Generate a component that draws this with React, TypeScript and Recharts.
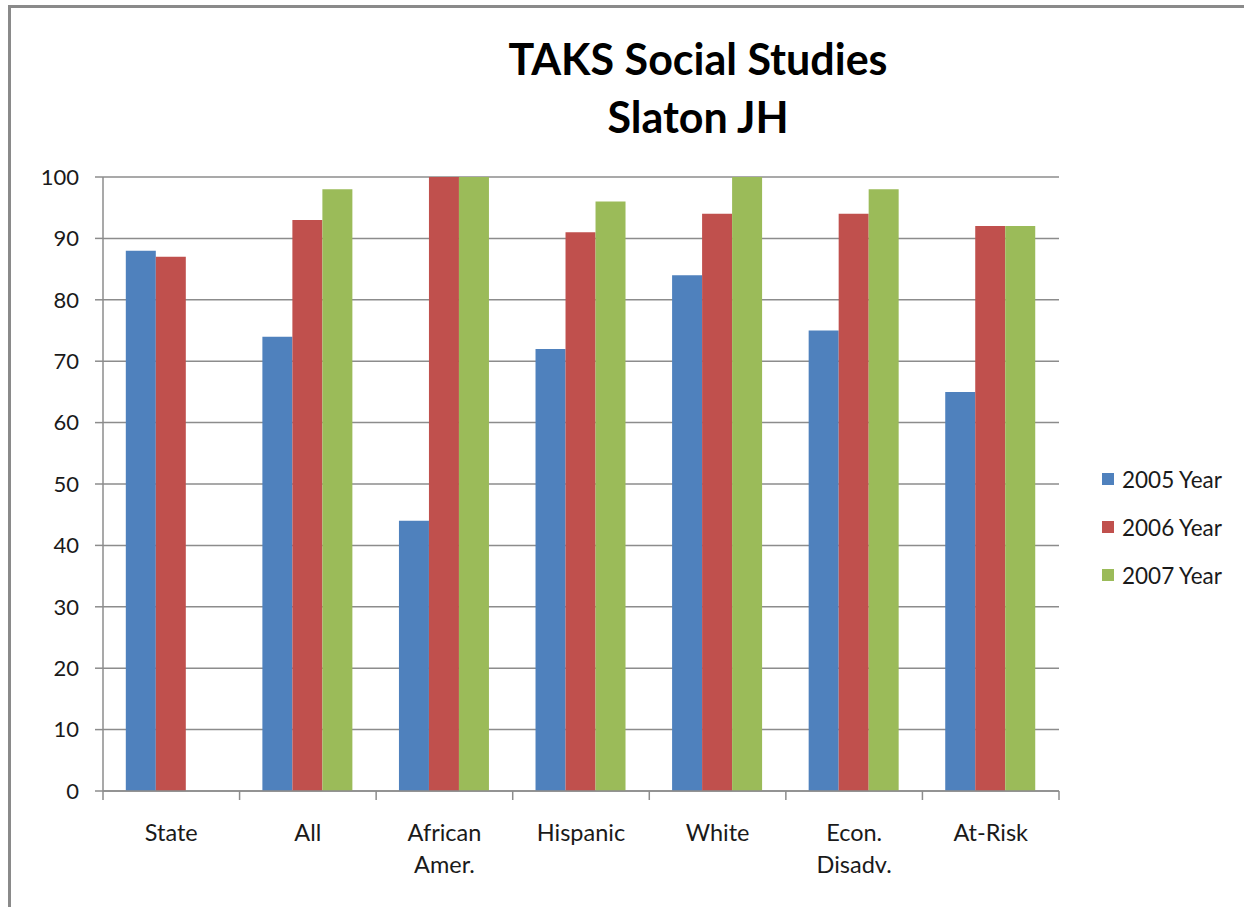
import React from "react";
import { BarChart, Bar, XAxis, YAxis, CartesianGrid, Legend } from "recharts";

const categories = ["State", "All", "African\nAmer.", "Hispanic", "White", "Econ.\nDisadv.", "At-Risk"];
const y2005 = [88, 74, 44, 72, 84, 75, 65];
const y2006 = [87, 93, 100, 91, 94, 94, 92];
const y2007 = [null, 98, 100, 96, 100, 98, 92];
const seriesNames = ["2005 Year", "2006 Year", "2007 Year"];
const seriesColors = ["#4F81BD", "#C0504D", "#9BBB59"];
const yTicks = [0, 10, 20, 30, 40, 50, 60, 70, 80, 90, 100];

const data = categories.map((c, i) => ({
  name: c,
  s2005: y2005[i],
  s2006: y2006[i],
  s2007: y2007[i],
}));

const W = 1244;
const H = 907;
const PLOT_LEFT = 103;
const PLOT_RIGHT = 1059;
const PLOT_TOP = 177;
const PLOT_BOTTOM = 791;
const LEGEND_W = 140;
const BAND = (PLOT_RIGHT - PLOT_LEFT) / categories.length;
const FONT = "Lato, 'Open Sans', sans-serif";
const AXIS_COLOR = "#8c8c8c";

const XTick = (props: any) => {
  const { x, payload, index } = props;
  const lines = String(payload.value).split("\n");
  const left = x - BAND / 2;
  const right = x + BAND / 2;
  return (
    <g>
      <line x1={left} x2={left} y1={PLOT_BOTTOM} y2={PLOT_BOTTOM + 9} stroke={AXIS_COLOR} strokeWidth={1.5} />
      {index === categories.length - 1 && (
        <line x1={right} x2={right} y1={PLOT_BOTTOM} y2={PLOT_BOTTOM + 9} stroke={AXIS_COLOR} strokeWidth={1.5} />
      )}
      <text x={x} y={PLOT_BOTTOM} textAnchor="middle" fill="#1a1a1a" fontFamily={FONT} fontSize={23.5}>
        {lines.map((l, i) => (
          <tspan key={i} x={x} dy={i === 0 ? 50 : 32}>
            {l}
          </tspan>
        ))}
      </text>
    </g>
  );
};

const LegendContent = () => (
  <div style={{ fontFamily: FONT, fontSize: 22.5, color: "#1a1a1a" }}>
    {seriesNames.map((n, i) => (
      <div key={n} style={{ display: "flex", alignItems: "center", height: 48 }}>
        <div style={{ width: 12, height: 12, background: seriesColors[i], marginRight: 8 }} />
        <span>{n}</span>
      </div>
    ))}
  </div>
);

export default function App() {
  return (
    <div style={{ position: "fixed", left: 0, top: 0, width: W, height: H, overflow: "hidden", background: "#fff" }}>
      <div
        style={{
          position: "absolute",
          left: 8,
          top: 5,
          width: 1400,
          height: 1100,
          borderLeft: "3px solid #8a8a8a",
          borderTop: "3px solid #8a8a8a",
          boxSizing: "border-box",
        }}
      />
      <div
        style={{
          position: "absolute",
          left: 0,
          width: 1396,
          top: 30,
          textAlign: "center",
          fontFamily: FONT,
          fontWeight: 700,
          fontSize: 43,
          lineHeight: "58px",
          color: "#000",
        }}
      >
        <div>TAKS Social Studies</div>
        <div>Slaton JH</div>
      </div>
      <div style={{ position: "absolute", left: 0, top: 0 }}>
        <BarChart
          width={W}
          height={H}
          data={data}
          margin={{ top: PLOT_TOP, right: W - PLOT_RIGHT - LEGEND_W, bottom: H - PLOT_BOTTOM - 60, left: 0 }}
          barCategoryGap="16.7%"
          barGap={0}
        >
          <CartesianGrid vertical={false} stroke={AXIS_COLOR} strokeWidth={1.5} />
          <XAxis
            dataKey="name"
            height={60}
            interval={0}
            tick={<XTick />}
            tickLine={false}
            tickSize={0}
            axisLine={{ stroke: AXIS_COLOR, strokeWidth: 1.5 }}
          />
          <YAxis
            width={PLOT_LEFT}
            domain={[0, 100]}
            ticks={yTicks}
            interval={0}
            tickSize={8}
            tickMargin={16}
            tickLine={{ stroke: AXIS_COLOR, strokeWidth: 1.5 }}
            axisLine={{ stroke: AXIS_COLOR, strokeWidth: 1.5 }}
            tick={{ fill: "#1a1a1a", fontFamily: FONT, fontSize: 22 }}
          />
          <Legend
            layout="vertical"
            align="right"
            verticalAlign="middle"
            content={<LegendContent />}
            wrapperStyle={{ position: "absolute", left: 1102, top: 455, width: LEGEND_W }}
          />
          <Bar dataKey="s2005" name={seriesNames[0]} fill={seriesColors[0]} isAnimationActive={false} />
          <Bar dataKey="s2006" name={seriesNames[1]} fill={seriesColors[1]} isAnimationActive={false} />
          <Bar dataKey="s2007" name={seriesNames[2]} fill={seriesColors[2]} isAnimationActive={false} />
        </BarChart>
      </div>
    </div>
  );
}
